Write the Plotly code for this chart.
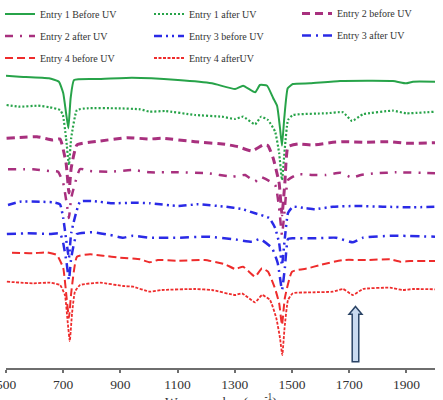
import plotly.graph_objects as go

# ---------------- data (wavenumber, offset transmittance in arbitrary units) ----------------
e1_before_x = [500, 547, 650, 685, 700, 710, 718, 726, 738, 825, 940, 1101, 1220, 1301, 1329, 1371, 1388,
               1413, 1434, 1448, 1458, 1465, 1473, 1485, 1503, 1563, 1668, 1853, 1899, 1923, 2000]
e1_before_y = [292.3, 291.3, 289.7, 286.3, 275, 255, 239.7, 270, 288, 289, 290.3, 288, 284.7, 279, 282.3,
               275.7, 283, 282.3, 270, 262, 240, 222.3, 250, 279.7, 284, 284.7, 287, 287, 284.7, 286.3, 286.3]

e1_after_x = [502, 549, 612, 654, 689, 699, 710, 720, 728, 748, 783, 888, 969, 1003, 1056, 1161, 1255, 1301,
              1329, 1371, 1392, 1416, 1441, 1455, 1465, 1475, 1486, 1503, 1619, 1678, 1710, 1748, 1853, 1899, 2000]
e1_after_y = [263, 261.3, 262.3, 260.7, 258, 253, 230, 203, 230, 258, 259.7, 259.7, 258.7, 256.3, 257, 253,
              251.3, 249, 251.3, 243.7, 251.3, 248, 236.3, 215, 188, 220, 248, 253, 254.7, 255.7, 247, 253.7,
              257.3, 254.7, 256.3]

e2_before_x = [502, 608, 664, 689, 710, 720, 728, 748, 829, 923, 1003, 1045, 1161, 1266, 1311, 1360, 1399,
               1416, 1434, 1455, 1465, 1475, 1486, 1521, 1573, 1643, 1689, 1748, 1843, 1899, 2000]
e2_before_y = [229.7, 231.3, 228, 229, 205, 175, 200, 223, 227, 230.3, 229, 229.7, 226.3, 223.7, 221.3, 217,
               223, 222.3, 210, 185, 153, 185, 221.3, 224, 223, 225.7, 226.3, 225.7, 226.3, 224.7, 225.3]

e2_after_x = [507, 594, 654, 682, 700, 712, 720, 728, 759, 794, 864, 944, 1003, 1101, 1206, 1290, 1336, 1371,
              1388, 1441, 1455, 1465, 1475, 1486, 1521, 1573, 1619, 1668, 1710, 1741, 1794, 1864, 2000]
e2_after_y = [198.7, 198.7, 197, 196.3, 185, 165, 150, 170, 199, 197, 196.3, 198, 195.7, 195.7, 194.7, 191.3,
              193, 186.3, 191.3, 183, 160, 133, 160, 188, 193.7, 193, 193, 195.3, 190.3, 193, 194.7, 195.7, 194.7]

e3_before_x = [507, 549, 619, 664, 689, 700, 712, 720, 728, 759, 804, 874, 944, 1003, 1101, 1171, 1266, 1325,
               1371, 1420, 1441, 1455, 1465, 1475, 1486, 1503, 1549, 1580, 1643, 1724, 1818, 1923, 2000]
e3_before_y = [163, 166.3, 166.3, 165.7, 163.7, 150, 125, 110, 135, 166.3, 167, 164.7, 165.3, 164.7, 162,
               163.7, 161.3, 159, 154.7, 150, 140, 125, 103, 130, 155, 161.3, 159.7, 158.7, 161.3, 162, 161.3,
               160.7, 161.3]

e3_after_x = [503, 573, 654, 689, 700, 712, 720, 728, 748, 804, 864, 909, 944, 1003, 1101, 1206, 1290, 1360,
              1388, 1430, 1450, 1465, 1475, 1486, 1503, 1573, 1654, 1713, 1748, 1853, 2000]
e3_after_y = [134, 134.7, 134, 134.7, 125, 105, 88, 110, 134, 135.7, 133, 130.3, 132.3, 130.3, 130.3, 131.3,
              129, 126.3, 129, 120, 105, 78, 100, 129, 129.7, 129.7, 130.3, 125.7, 130.3, 132.3, 131.3]

e4_before_x = [521, 594, 643, 678, 700, 712, 720, 728, 748, 794, 839, 899, 969, 1003, 1031, 1101, 1196, 1266,
               1301, 1329, 1371, 1395, 1416, 1440, 1455, 1465, 1475, 1500, 1556, 1598, 1678, 1759, 1843, 1878,
               1913, 2000]
e4_before_y = [115.3, 114.7, 115.7, 113, 100, 70, 50, 75, 111.3, 113.7, 112.3, 110.3, 108.7, 105.7, 108, 107.3,
               108, 103.7, 99, 101.3, 91.3, 99.7, 96.3, 80, 65, 43, 70, 96.3, 99.7, 103, 108, 108, 108.7, 106.3,
               107, 107]

e4_after_x = [503, 594, 654, 689, 706, 716, 723, 731, 741, 759, 829, 909, 944, 1003, 1045, 1161, 1220, 1301,
              1325, 1371, 1395, 1423, 1445, 1458, 1466, 1474, 1486, 1503, 1573, 1643, 1678, 1713, 1748, 1843,
              1888, 1923, 2000]
e4_after_y = [86.3, 84.7, 85.3, 83, 73, 45, 27, 55, 76.3, 83, 85.3, 82, 81.3, 76.3, 78, 79, 78, 73, 74.7, 65.7,
              73, 68, 50, 30, 13, 40, 68, 74.7, 75.7, 76.3, 79, 73, 79, 80.3, 78, 79, 78.7]

tick_vals = [500, 700, 900, 1100, 1300, 1500, 1700, 1900]
x_title = "Wave number (cm<sup>-1</sup>)"
arrow_wn = 1722  # carbonyl band marked by the arrow

GREEN = "#27a349"
MAGENTA = "#a8307e"
BLUE = "#2a2ae6"
RED = "#ee2c2c"
FONT = "Liberation Serif"

# name, x, y, colour, width, dash, legend column
series = [
    ("Entry 1 Before UV", e1_before_x, e1_before_y, GREEN, 2, "solid", "legend"),
    ("Entry 1 after UV", e1_after_x, e1_after_y, GREEN, 2.2, "2px,2px", "legend2"),
    ("Entry 2 before UV", e2_before_x, e2_before_y, MAGENTA, 3, "8px,5px", "legend3"),
    ("Entry 2 after UV", e2_after_x, e2_after_y, MAGENTA, 2.5, "8px,7px,2px,7px", "legend"),
    ("Entry 3 before UV", e3_before_x, e3_before_y, BLUE, 2.5, "8px,4px,2px,4px,2px,4px", "legend2"),
    ("Entry 3 after UV", e3_after_x, e3_after_y, BLUE, 2.5, "9px,5px,2px,5px", "legend3"),
    ("Entry 4 before UV", e4_before_x, e4_before_y, RED, 2, "8px,4px", "legend"),
    ("Entry 4 afterUV", e4_after_x, e4_after_y, RED, 1.8, "3px,1.5px", "legend2"),
]

fig = go.Figure()
for name, xs, ys, col, w, dash, lg in series:
    fig.add_trace(go.Scatter(x=xs, y=ys, mode="lines", name=name, legend=lg, legendgroup=name,
                             line=dict(color=col, width=w, dash=dash, shape="spline", smoothing=0.4)))

# block arrow marking the 1720 cm-1 band
hw_head, hw_shaft = 22.7, 11.5
y_tip, y_base, y_bot = 61.5, 53.7, 6.3
path = (f"M {arrow_wn} {y_tip} L {arrow_wn + hw_head} {y_base} L {arrow_wn + hw_shaft} {y_base} "
        f"L {arrow_wn + hw_shaft} {y_bot} L {arrow_wn - hw_shaft} {y_bot} L {arrow_wn - hw_shaft} {y_base} "
        f"L {arrow_wn - hw_head} {y_base} Z")
fig.add_shape(type="path", path=path, xref="x", yref="y",
              fillcolor="#c9daf0", line=dict(color="#2b4466", width=1.5))

# x-axis title sits partly below the page edge, as in the reference
fig.add_annotation(text=x_title, xref="paper", yref="paper", x=0.5, y=-33 / 298,
                   xanchor="center", yanchor="middle", showarrow=False,
                   font=dict(family=FONT, size=13.5, color="#333333"))

leg_common = dict(orientation="v", xref="container", yref="container", xanchor="left", yanchor="middle",
                  font=dict(family=FONT, size=10, color="#333333"), bgcolor="rgba(0,0,0,0)",
                  itemwidth=30, tracegroupgap=3)

fig.update_layout(
    width=443, height=400,
    margin=dict(l=6, r=8, t=70, b=32, autoexpand=False),
    paper_bgcolor="white", plot_bgcolor="white",
    font=dict(family=FONT, color="#333333"),
    legend=dict(x=0.0, y=1 - 36 / 400, **leg_common),
    legend2=dict(x=149 / 443, y=1 - 36 / 400, **leg_common),
    legend3=dict(x=297 / 443, y=1 - 24.5 / 400, **leg_common),
    xaxis=dict(range=[500, 2000], tickvals=tick_vals, showgrid=False, zeroline=False,
               showline=True, linecolor="#6e6e6e", linewidth=2, ticks="outside", ticklen=3,
               tickwidth=1.5, tickcolor="#6e6e6e", ticklabeloverflow="allow",
               tickfont=dict(family=FONT, size=13.5, color="#333333"),
               automargin=False),
    yaxis=dict(range=[0, 298], visible=False, automargin=False),
)

fig.write_html("out.html")
